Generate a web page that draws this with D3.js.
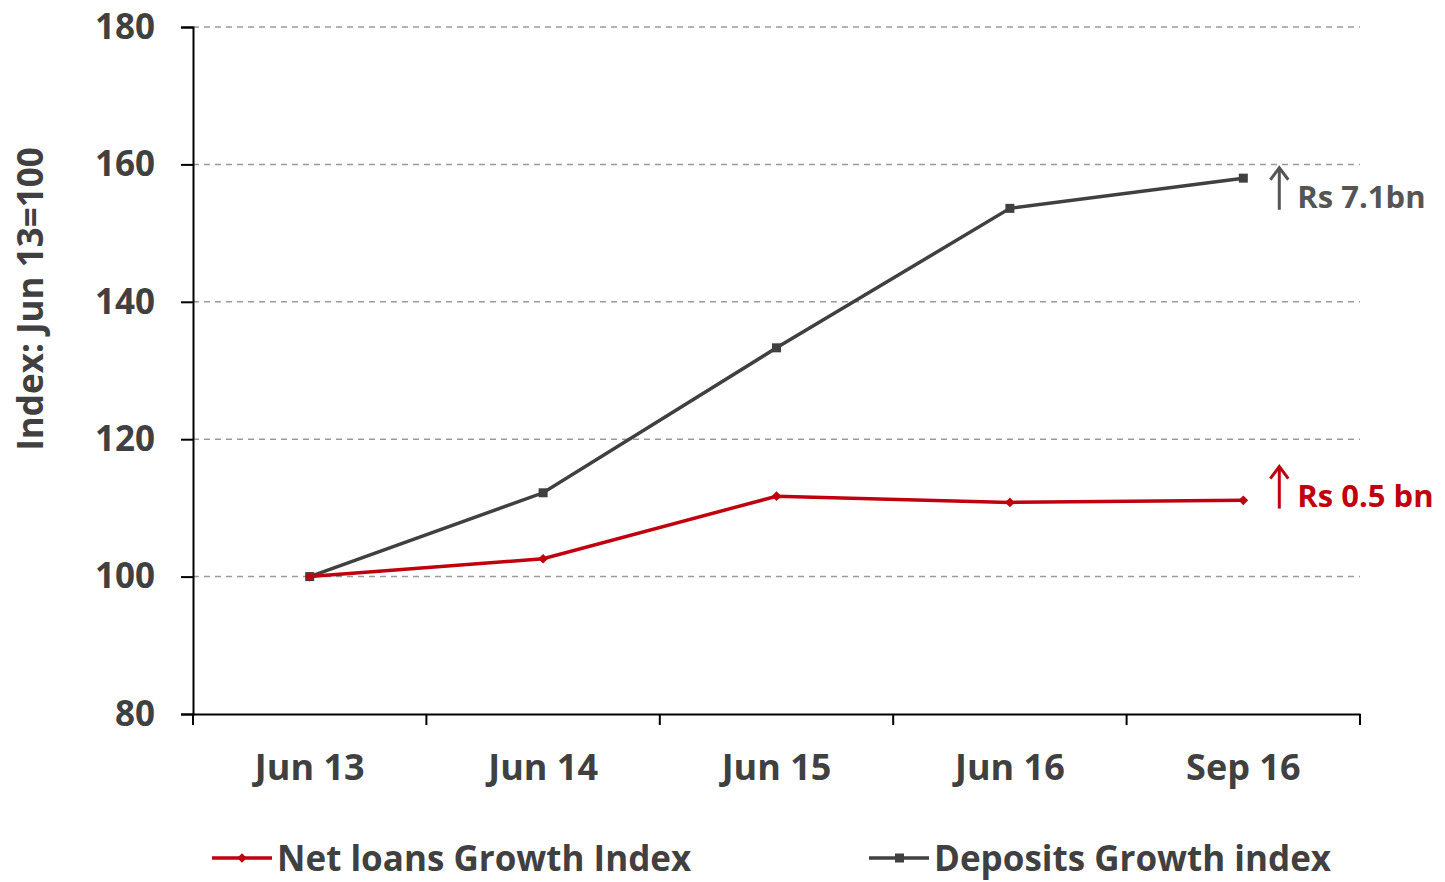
<!DOCTYPE html>
<html>
<head>
<meta charset="utf-8">
<script src="https://cdn.jsdelivr.net/npm/d3@7"></script>
<style>
    body { margin: 0; background: #ffffff; }
    svg { display: block; font-family: "Open Sans", sans-serif; font-weight: bold; }
</style>
</head>
<body>
<div id="index_plot"></div>
<script>
// data
var periods = ["Jun 13", "Jun 14", "Jun 15", "Jun 16", "Sep 16"];
var loansIndex = [100, 102.6, 111.7, 110.8, 111.1];
var depositsIndex = [100, 112.2, 133.3, 153.6, 158.0];
var yTicks = [80, 100, 120, 140, 160, 180];
var seriesNames = ["Net loans Growth Index", "Deposits Growth index"];
var annotations = ["Rs 7.1bn", "Rs 0.5 bn"];
var annotationLevels = [155.0, 111.5];

var textColor = "#404040",
    red = "#c0000f",
    grey = "#404040",
    font = "'Open Sans', sans-serif";

// set the dimensions and margins of the graph
var margin = { top: 27, right: 85, bottom: 168, left: 193 },
    width = 1445 - margin.left - margin.right,
    height = 882 - margin.top - margin.bottom;

var svg = d3.select("#index_plot")
    .append("svg")
    .attr("width", 1445)
    .attr("height", 882)
    .append("g")
    .attr("transform", "translate(" + margin.left + "," + margin.top + ")");

// X axis
var x = d3.scaleBand()
    .range([0, width])
    .domain(periods);

// Y axis
var y = d3.scaleLinear()
    .domain([80, 180])
    .range([height, 0]);

// dashed gridlines
svg.append("g")
    .selectAll("line")
    .data(yTicks.slice(1))
    .enter()
    .append("line")
    .attr("x1", 0)
    .attr("x2", width)
    .attr("y1", function (d) { return y(d); })
    .attr("y2", function (d) { return y(d); })
    .attr("stroke", "#9a9a9a")
    .attr("stroke-width", 1.5)
    .attr("stroke-dasharray", "6,5");

var yAxis = svg.append("g")
    .call(d3.axisLeft(y).tickValues(yTicks).tickSize(12).tickPadding(26));
yAxis.select(".domain").attr("stroke", "#000").attr("stroke-width", 2);
yAxis.selectAll(".tick line").attr("stroke", "#000").attr("stroke-width", 2);
yAxis.selectAll(".tick text")
    .attr("fill", textColor)
    .style("font-size", "35px")
    .style("font-weight", "bold")
    .style("font-family", font);

var xAxis = svg.append("g")
    .attr("transform", "translate(0," + height + ")")
    .call(d3.axisBottom(x).tickSize(0).tickPadding(40));
xAxis.select(".domain").attr("stroke", "#000").attr("stroke-width", 2);
xAxis.selectAll(".tick text")
    .attr("fill", textColor)
    .style("font-size", "36px")
    .style("font-weight", "bold")
    .style("font-family", font);

// x ticks sit on the band boundaries
svg.append("g")
    .selectAll("line")
    .data(periods.concat(["end"]))
    .enter()
    .append("line")
    .attr("x1", function (d, i) { return i * x.step(); })
    .attr("x2", function (d, i) { return i * x.step(); })
    .attr("y1", height)
    .attr("y2", height + 11)
    .attr("stroke", "#000")
    .attr("stroke-width", 2);

// Y axis label
svg.append("text")
    .attr("text-anchor", "middle")
    .attr("transform", "rotate(-90)")
    .attr("x", -(299 - margin.top))
    .attr("y", -margin.left + 43)
    .attr("fill", textColor)
    .style("font-size", "35px")
    .text("Index: Jun 13=100");

var line = d3.line()
    .x(function (d, i) { return x(periods[i]) + x.bandwidth() / 2; })
    .y(function (d) { return y(d); });

// Deposits line with square markers
svg.append("path")
    .datum(depositsIndex)
    .attr("fill", "none")
    .attr("stroke", grey)
    .attr("stroke-width", 3.5)
    .attr("d", line);
svg.append("g")
    .selectAll("rect")
    .data(depositsIndex)
    .enter()
    .append("rect")
    .attr("x", function (d, i) { return x(periods[i]) + x.bandwidth() / 2 - 4.5; })
    .attr("y", function (d) { return y(d) - 4.5; })
    .attr("width", 9)
    .attr("height", 9)
    .attr("fill", grey);

// Net loans line with diamond markers
svg.append("path")
    .datum(loansIndex)
    .attr("fill", "none")
    .attr("stroke", red)
    .attr("stroke-width", 3.5)
    .attr("d", line);
svg.append("g")
    .selectAll("path")
    .data(loansIndex)
    .enter()
    .append("path")
    .attr("d", d3.symbol().type(d3.symbolDiamond2).size(60))
    .attr("transform", function (d, i) {
        return "translate(" + (x(periods[i]) + x.bandwidth() / 2) + "," + y(d) + ")";
    })
    .attr("fill", red);

// annotations with up arrows
function arrowNote(value, text, color) {
    var ax = x(periods[4]) + x.bandwidth() / 2 + 36;
    var g = svg.append("g").attr("fill", color).attr("stroke", color);
    var top = y(value) - 31, bottom = y(value) + 11;
    g.append("line")
        .attr("x1", ax).attr("x2", ax)
        .attr("y1", top + 2).attr("y2", bottom)
        .attr("stroke-width", 3);
    g.append("path")
        .attr("d", "M" + (ax - 9) + "," + (top + 12) + "L" + ax + "," + top + "L" + (ax + 9) + "," + (top + 12))
        .attr("fill", "none")
        .attr("stroke-width", 3);
    g.append("text")
        .attr("x", ax + 18)
        .attr("y", y(value) + 9)
        .attr("stroke", "none")
        .style("font-size", "31px")
        .text(text);
}
arrowNote(annotationLevels[0], annotations[0], "#555555");
arrowNote(annotationLevels[1], annotations[1], red);

// legend
var legend = svg.append("g")
    .attr("transform", "translate(0," + (height + 144) + ")");
var legendItems = [
    { name: seriesNames[0], color: red, x1: 212, marker: "diamond" },
    { name: seriesNames[1], color: grey, x1: 869, marker: "square" }
];
legendItems.forEach(function (d) {
    var lx = d.x1 - margin.left;
    legend.append("line")
        .attr("x1", lx).attr("x2", lx + 60)
        .attr("y1", 0).attr("y2", 0)
        .attr("stroke", d.color)
        .attr("stroke-width", 3.5);
    if (d.marker === "diamond") {
        legend.append("path")
            .attr("d", d3.symbol().type(d3.symbolDiamond2).size(60))
            .attr("transform", "translate(" + (lx + 30) + ",0)")
            .attr("fill", d.color);
    } else {
        legend.append("rect")
            .attr("x", lx + 26).attr("y", -4.5)
            .attr("width", 9).attr("height", 9)
            .attr("fill", d.color);
    }
    legend.append("text")
        .attr("x", lx + 65)
        .attr("y", 13)
        .attr("fill", textColor)
        .style("font-size", "35px")
        .text(d.name);
});
</script>
</body>
</html>
